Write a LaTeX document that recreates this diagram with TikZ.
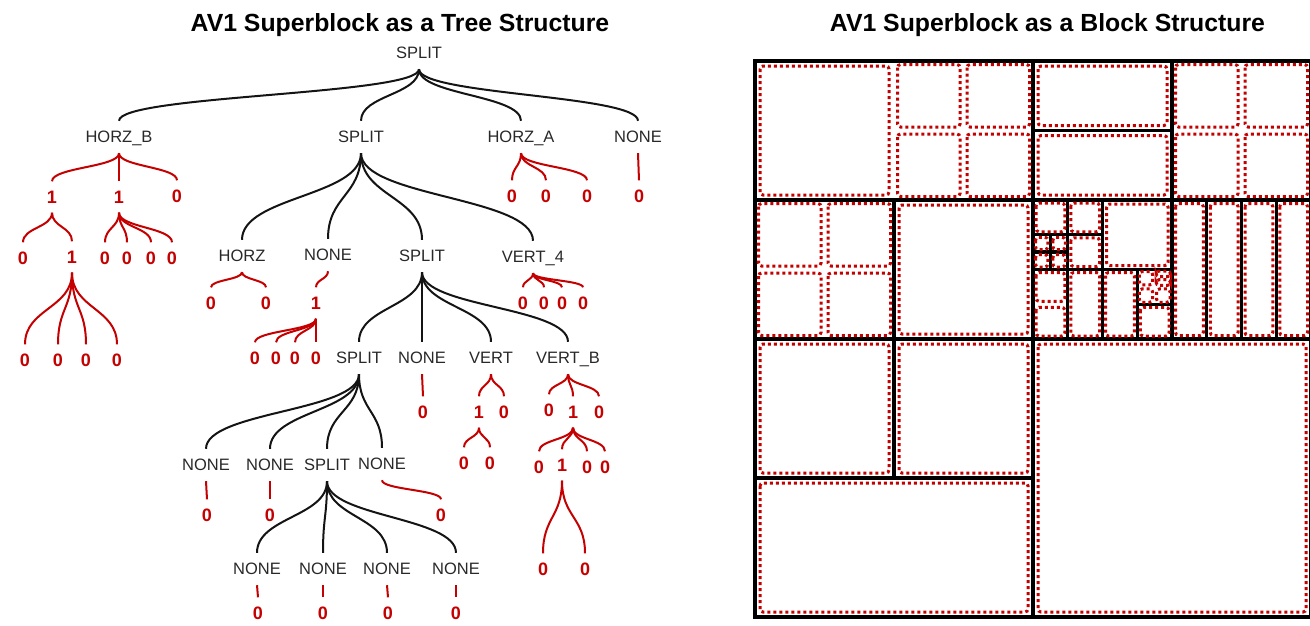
\documentclass[tikz,border=0pt]{standalone}
\usepackage{fontspec}
\setmainfont{Liberation Sans}
\usetikzlibrary{calc}
\definecolor{tred}{RGB}{196,0,0}
\definecolor{tgray}{RGB}{40,40,40}
\tikzset{
  ttl/.style={font=\fontsize{24.8}{24.8}\selectfont\bfseries, text=black, text height=17.8pt, text depth=0pt, inner sep=0pt},
  lab/.style={font=\fontsize{16.5}{16.5}\selectfont, text=tgray, text height=11.8pt, text depth=0pt, minimum height=32pt, inner sep=0pt},
  dig/.style={font=\fontsize{18}{18}\selectfont\bfseries, text=tred, text height=12.9pt, text depth=0pt, minimum height=31pt, inner sep=0pt},
  bedge/.style={draw=black!92, line width=2pt},
  redge/.style={draw=tred, line width=2pt},
  part/.style={draw=black, line width=3.4pt, line cap=rect},
  txb/.style={draw=tred, line width=3pt, dash pattern=on 3pt off 3pt, rounded corners=3pt},
}
\newcommand{\tedge}[3]{\draw[#1] let \p1=(#2.south), \p2=(#3.north) in (\p1) .. controls (\x1,{0.5*\y1+0.5*\y2}) and (\x2,{0.5*\y1+0.5*\y2}) .. (\p2);}
\newcommand{\txr}[5]{\draw[txb] ([xshift=#5pt,yshift=-#5pt]#1,#2) rectangle ([xshift=-#5pt,yshift=#5pt]#3,#4);}
\begin{document}
\begin{tikzpicture}[x=1pt,y=-1pt]
\useasboundingbox (0,0) rectangle (1310,625);
\clip (0,0) rectangle (1310,625);
% titles
\node[ttl] (t1) at (400,23) {AV1 Superblock as a Tree Structure};
\node[ttl] (t2) at (1047.5,23) {AV1 Superblock as a Block Structure};
% ---- tree labels
\node[lab] (r) at (419,53) {SPLIT};
\node[lab] (a) at (119,137) {HORZ\_B};
\node[lab] (b) at (361,137) {SPLIT};
\node[lab] (c) at (521,137) {HORZ\_A};
\node[lab] (d) at (638,137) {NONE};
\node[lab] (ba) at (242,256) {HORZ};
\node[lab] (bb) at (328,255) {NONE};
\node[lab] (bc) at (422,256) {SPLIT};
\node[lab] (bd) at (533,257) {VERT\_4};
\node[lab] (bca) at (359,358) {SPLIT};
\node[lab] (bcb) at (422,358) {NONE};
\node[lab] (bcc) at (491,358) {VERT};
\node[lab] (bcd) at (568,358) {VERT\_B};
\node[lab] (bcaa) at (206,465) {NONE};
\node[lab] (bcab) at (270,465) {NONE};
\node[lab] (bcac) at (327,465) {SPLIT};
\node[lab] (bcad) at (382,464) {NONE};
\node[lab] (bcac1) at (257,569) {NONE};
\node[lab] (bcac2) at (323,569) {NONE};
\node[lab] (bcac3) at (387,569) {NONE};
\node[lab] (bcac4) at (456,569) {NONE};
% ---- transform digits
\node[dig] (a1) at (52,197) {1};
\node[dig] (a2) at (119,197) {1};
\node[dig] (a3) at (177,196) {0};
\node[dig] (a11) at (23,258) {0};
\node[dig] (a12) at (72,257) {1};
\node[dig] (a121) at (25,360) {0};
\node[dig] (a122) at (58,360) {0};
\node[dig] (a123) at (86,360) {0};
\node[dig] (a124) at (117,360) {0};
\node[dig] (a21) at (105,258) {0};
\node[dig] (a22) at (127,258) {0};
\node[dig] (a23) at (151,258) {0};
\node[dig] (a24) at (172,258) {0};
\node[dig] (c1) at (512,196) {0};
\node[dig] (c2) at (546,196) {0};
\node[dig] (c3) at (587,196) {0};
\node[dig] (d1) at (639,196) {0};
\node[dig] (ba1) at (211,303) {0};
\node[dig] (ba2) at (266,303) {0};
\node[dig] (bb1) at (316,303) {1};
\node[dig] (bb11) at (255,358) {0};
\node[dig] (bb12) at (276,358) {0};
\node[dig] (bb13) at (295,358) {0};
\node[dig] (bb14) at (316,358) {0};
\node[dig] (bd1) at (523,303) {0};
\node[dig] (bd2) at (544,303) {0};
\node[dig] (bd3) at (562,303) {0};
\node[dig] (bd4) at (583,303) {0};
\node[dig] (bcb1) at (423,412) {0};
\node[dig] (bcc1) at (479,412) {1};
\node[dig] (bcc2) at (504,412) {0};
\node[dig] (bcc11) at (464,463) {0};
\node[dig] (bcc12) at (490,463) {0};
\node[dig] (bcd1) at (549,410) {0};
\node[dig] (bcd2) at (573,412) {1};
\node[dig] (bcd3) at (599,412) {0};
\node[dig] (bcd21) at (539,467) {0};
\node[dig] (bcd22) at (562,465) {1};
\node[dig] (bcd23) at (587,467) {0};
\node[dig] (bcd24) at (605,467) {0};
\node[dig] (bcd221) at (543,569) {0};
\node[dig] (bcd222) at (585,569) {0};
\node[dig] (bcaa1) at (207,515) {0};
\node[dig] (bcab1) at (270,515) {0};
\node[dig] (bcad1) at (441,515) {0};
\node[dig] (bcac11) at (258,613) {0};
\node[dig] (bcac21) at (323,613) {0};
\node[dig] (bcac31) at (388,613) {0};
\node[dig] (bcac41) at (456,613) {0};
% ---- black edges
\tedge{bedge}{r}{a} \tedge{bedge}{r}{b} \tedge{bedge}{r}{c} \tedge{bedge}{r}{d}
\tedge{bedge}{b}{ba} \tedge{bedge}{b}{bb} \tedge{bedge}{b}{bc} \tedge{bedge}{b}{bd}
\tedge{bedge}{bc}{bca} \tedge{bedge}{bc}{bcb} \tedge{bedge}{bc}{bcc} \tedge{bedge}{bc}{bcd}
\tedge{bedge}{bca}{bcaa} \tedge{bedge}{bca}{bcab} \tedge{bedge}{bca}{bcac} \tedge{bedge}{bca}{bcad}
\tedge{bedge}{bcac}{bcac1} \tedge{bedge}{bcac}{bcac2} \tedge{bedge}{bcac}{bcac3} \tedge{bedge}{bcac}{bcac4}
% ---- red edges
\tedge{redge}{a}{a1} \tedge{redge}{a}{a2} \tedge{redge}{a}{a3}
\tedge{redge}{a1}{a11} \tedge{redge}{a1}{a12}
\tedge{redge}{a12}{a121} \tedge{redge}{a12}{a122} \tedge{redge}{a12}{a123} \tedge{redge}{a12}{a124}
\tedge{redge}{a2}{a21} \tedge{redge}{a2}{a22} \tedge{redge}{a2}{a23} \tedge{redge}{a2}{a24}
\tedge{redge}{c}{c1} \tedge{redge}{c}{c2} \tedge{redge}{c}{c3}
\tedge{redge}{d}{d1}
\tedge{redge}{ba}{ba1} \tedge{redge}{ba}{ba2}
\tedge{redge}{bb}{bb1}
\tedge{redge}{bb1}{bb11} \tedge{redge}{bb1}{bb12} \tedge{redge}{bb1}{bb13} \tedge{redge}{bb1}{bb14}
\tedge{redge}{bd}{bd1} \tedge{redge}{bd}{bd2} \tedge{redge}{bd}{bd3} \tedge{redge}{bd}{bd4}
\tedge{redge}{bcb}{bcb1}
\tedge{redge}{bcc}{bcc1} \tedge{redge}{bcc}{bcc2}
\tedge{redge}{bcc1}{bcc11} \tedge{redge}{bcc1}{bcc12}
\tedge{redge}{bcd}{bcd1} \tedge{redge}{bcd}{bcd2} \tedge{redge}{bcd}{bcd3}
\tedge{redge}{bcd2}{bcd21} \tedge{redge}{bcd2}{bcd22} \tedge{redge}{bcd2}{bcd23} \tedge{redge}{bcd2}{bcd24}
\tedge{redge}{bcd22}{bcd221} \tedge{redge}{bcd22}{bcd222}
\tedge{redge}{bcaa}{bcaa1} \tedge{redge}{bcab}{bcab1} \tedge{redge}{bcad}{bcad1}
\tedge{redge}{bcac1}{bcac11} \tedge{redge}{bcac2}{bcac21} \tedge{redge}{bcac3}{bcac31} \tedge{redge}{bcac4}{bcac41}
% ---- block structure
\begin{scope}[shift={(755,61)},x=4.34375pt,y=-4.34375pt]
% partitions
\draw[part] (0,0) rectangle (128,128);
\draw[part] (64,0) -- (64,128) (0,64) -- (128,64);
\draw[part] (0,32) -- (64,32) (32,32) -- (32,64);
\draw[part] (96,0) -- (96,64) (64,32) -- (128,32) (64,16) -- (96,16);
\draw[part] (80,32) -- (80,64) (64,48) -- (96,48) (72,32) -- (72,48) (64,40) -- (80,40);
\draw[part] (68,40) -- (68,48) (64,44) -- (72,44) (72,48) -- (72,64) (88,48) -- (88,64) (88,56) -- (96,56);
\draw[part] (104,32) -- (104,64) (112,32) -- (112,64) (120,32) -- (120,64);
\draw[part] (0,96) -- (64,96) (32,64) -- (32,96);
% transform blocks
\txr{0}{0}{32}{32}{5}
\txr{32}{0}{48}{16}{3.5} \txr{48}{0}{64}{16}{3.5} \txr{32}{16}{48}{32}{3.5} \txr{48}{16}{64}{32}{3.5}
\txr{0}{32}{16}{48}{3.5} \txr{16}{32}{32}{48}{3.5} \txr{0}{48}{16}{64}{3.5} \txr{16}{48}{32}{64}{3.5}
\txr{32}{32}{64}{64}{5}
\txr{64}{0}{96}{16}{5} \txr{64}{16}{96}{32}{5}
\txr{96}{0}{112}{16}{3.5} \txr{112}{0}{128}{16}{3.5} \txr{96}{16}{112}{32}{3.5} \txr{112}{16}{128}{32}{3.5}
\txr{64}{32}{72}{40}{3} \txr{72}{32}{80}{40}{3}
\txr{64}{40}{68}{44}{2.5} \txr{68}{40}{72}{44}{2.5} \txr{64}{44}{68}{48}{2.5} \txr{68}{44}{72}{48}{2.5}
\txr{72}{40}{80}{48}{3}
\txr{80}{32}{96}{48}{4}
\txr{64}{48}{72}{56}{3} \txr{64}{56}{72}{64}{3} \txr{72}{48}{80}{64}{3}
\txr{80}{48}{88}{64}{3}
\txr{88}{48}{92}{52}{2} \txr{92}{48}{96}{50}{1.5} \txr{92}{50}{96}{52}{1.5} \txr{88}{52}{92}{56}{2} \txr{92}{52}{96}{56}{2}
\txr{88}{56}{96}{64}{3}
\txr{96}{32}{104}{64}{3.5} \txr{104}{32}{112}{64}{3.5} \txr{112}{32}{120}{64}{3.5} \txr{120}{32}{128}{64}{3.5}
\txr{0}{64}{32}{96}{5} \txr{32}{64}{64}{96}{5} \txr{0}{96}{64}{128}{5}
\txr{64}{64}{128}{128}{5}
\end{scope}
\end{tikzpicture}
\end{document}
